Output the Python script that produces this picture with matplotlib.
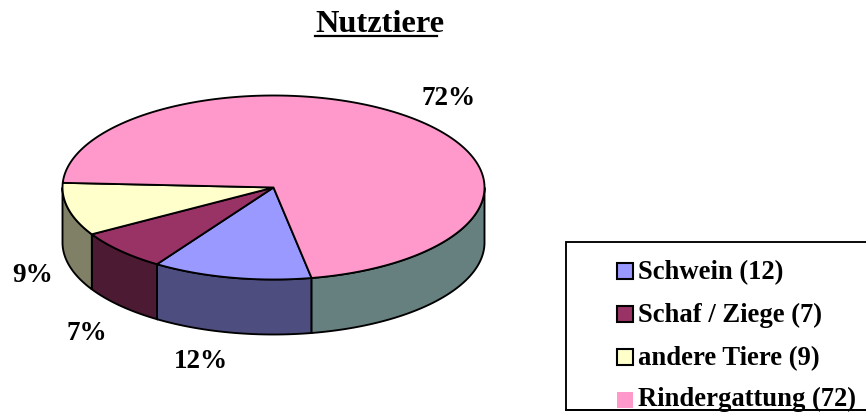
# -*- coding: utf-8 -*-
"""3D-look pie chart of farm animals, drawn with plain polygons."""
import numpy as np
import matplotlib
matplotlib.use("Agg")
import matplotlib.pyplot as plt
from matplotlib.patches import Polygon, Rectangle

# ----- data -----
CATEGORIES = ["Schwein", "Schaf / Ziege", "andere Tiere", "Rindergattung"]
VALUES = [12, 7, 9, 72]
# unrounded shares, estimated from the slice edges in the picture
SHARES = [12.2, 7.2, 9.3, 71.3]
PCT_LABELS = ["12%", "7%", "9%", "72%"]
TOP_COLORS = ["#9999FF", "#993366", "#FFFFCC", "#FF99CC"]
SIDE_COLORS = ["#4D4D80", "#4D1A33", "#808066", "#668080"]
TITLE = "Nutztiere"

# ----- layout, in image pixels -----
W, H = 866, 412
CX, CY = 273.5, 187.5
RX, RY = 211, 92
DEPTH = 55
START = 79.6  # degrees, clockwise on screen
LINE = 1.35
FONT = ["Liberation Serif", "DejaVu Serif"]

plt.rcParams["font.family"] = FONT
plt.rcParams["font.weight"] = "bold"

fig = plt.figure(figsize=(W / 100, H / 100), dpi=100)
ax = fig.add_axes([0, 0, 1, 1])
ax.set_xlim(0, W)
ax.set_ylim(H, 0)
ax.axis("off")


def rim(a0, a1, dy=0.0):
    t = np.radians(np.linspace(a0, a1, max(2, int(abs(a1 - a0)) * 2)))
    return np.column_stack([CX + RX * np.cos(t), CY + dy + RY * np.sin(t)])


# slice limits from the values
shares = np.array(SHARES) / sum(SHARES) * 360
ends = START + np.cumsum(shares)
starts = ends - shares

# side walls first, only the front half of the ellipse shows
for a0, a1, col in zip(starts, ends, SIDE_COLORS):
    for lo, hi in [(a0, min(a1, 180)), (max(a0, 360), min(a1, 540))]:
        if hi <= lo:
            continue
        pts = np.vstack([rim(lo, hi), rim(hi, lo, DEPTH)])
        ax.add_patch(Polygon(pts, closed=True, fc=col, ec="black", lw=LINE, zorder=2))

# top faces
for a0, a1, col in zip(starts, ends, TOP_COLORS):
    pts = np.vstack([[CX, CY], rim(a0, a1)])
    ax.add_patch(Polygon(pts, closed=True, fc=col, ec="black", lw=LINE,
                         joinstyle="round", zorder=3))

# percent labels
label_pos = [(201, 362), (86.5, 333), (33, 275), (449, 98)]
for txt, (x, y) in zip(PCT_LABELS, label_pos):
    ax.text(x, y, txt, fontsize=19.5, ha="center", va="center", zorder=5)

# title with underline
ax.text(315, 32, TITLE, fontsize=23.3, ha="left", va="baseline", zorder=5)
ax.plot([315, 437], [35.5, 35.5], color="black", lw=1.6, zorder=5)

# legend box, runs off the right edge
ax.add_patch(Rectangle((566, 242), 320, 168, fc="white", ec="black", lw=LINE,
                       clip_on=True, zorder=6))
swatch_y = [279, 322, 365, 408]
text_y = [279, 322, 365, 405.5]  # last one lifted so the descenders stay in the image
for name, val, col, sy, ty in zip(CATEGORIES, VALUES, TOP_COLORS, swatch_y, text_y):
    edge = "none" if col == TOP_COLORS[-1] else "black"
    ax.add_patch(Rectangle((616.5, sy - 16.5), 16, 16, fc=col, ec=edge, lw=1.5, zorder=7))
    ax.text(638, ty, f"{name} ({val})", fontsize=19.2, ha="left", va="baseline", zorder=7)
ax.plot([566, W], [410, 410], color="black", lw=LINE, zorder=8)

fig.savefig("out.png", dpi=100)
